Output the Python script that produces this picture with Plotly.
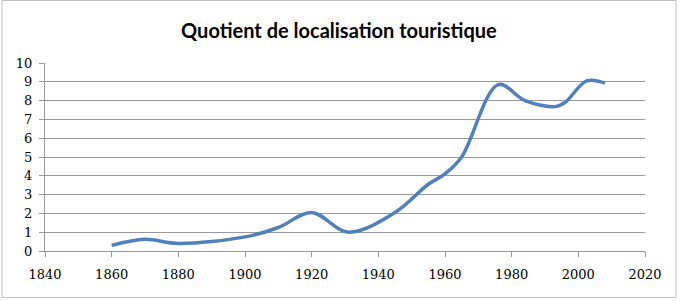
import plotly.graph_objects as go

years = [1860, 1870, 1880, 1900, 1910, 1920, 1931, 1945, 1955, 1960, 1965, 1976, 1984, 1993, 1996, 2002.5, 2008]
quotient = [0.3, 0.62, 0.4, 0.75, 1.25, 2.05, 1.0, 2.05, 3.55, 4.1, 5.0, 8.85, 8.0, 7.68, 7.9, 9.05, 8.93]

x_ticks = [1840, 1860, 1880, 1900, 1920, 1940, 1960, 1980, 2000, 2020]
y_ticks = list(range(0, 11))

W, H = 682, 301
L, R, T, B = 45, 37, 63, 50
pw, ph = W - L - R, H - T - B

fig = go.Figure()
fig.add_trace(go.Scatter(
    x=years, y=quotient, mode="lines",
    line=dict(color="#4F81BD", width=3.5, shape="spline", smoothing=1.0),
    hoverinfo="skip", showlegend=False,
))

def px2paper_x(px):
    return (px - L) / pw

def py2paper_y(py):
    return (H - B - py) / ph

tick_font = dict(family="DejaVu Serif", size=13, color="#000000")

fig.update_layout(
    width=W, height=H,
    margin=dict(l=L, r=R, t=T, b=B),
    paper_bgcolor="white", plot_bgcolor="white",
    font=dict(family="DejaVu Serif", size=13, color="#000000"),
    title=dict(text="<b>Quotient de localisation touristique</b>", x=0.497, xanchor="center",
               y=1 - 31 / H, yanchor="middle",
               font=dict(family="Lato", size=20, color="#000000")),
    xaxis=dict(range=[1840, 2020], tickmode="array", tickvals=x_ticks, ticktext=[str(v) for v in x_ticks],
               showgrid=False, zeroline=False, showline=True, linecolor="#999999", linewidth=1,
               ticks="outside", ticklen=5, tickcolor="#999999", ticklabelstandoff=6,
               tickfont=tick_font),
    yaxis=dict(range=[0, 10], tickmode="array", tickvals=y_ticks, showgrid=True, gridcolor="#999999", gridwidth=1,
               zeroline=False, showline=True, linecolor="#999999", linewidth=1,
               ticks="outside", ticklen=5, tickcolor="#999999", ticklabelstandoff=4,
               tickfont=tick_font),
    shapes=[dict(type="rect", xref="paper", yref="paper",
                 x0=px2paper_x(2), x1=px2paper_x(676), y0=py2paper_y(297.5), y1=py2paper_y(0.5),
                 line=dict(color="#bfbfbf", width=1), fillcolor="rgba(0,0,0,0)", layer="below")],
)

fig.write_html("out.html")
